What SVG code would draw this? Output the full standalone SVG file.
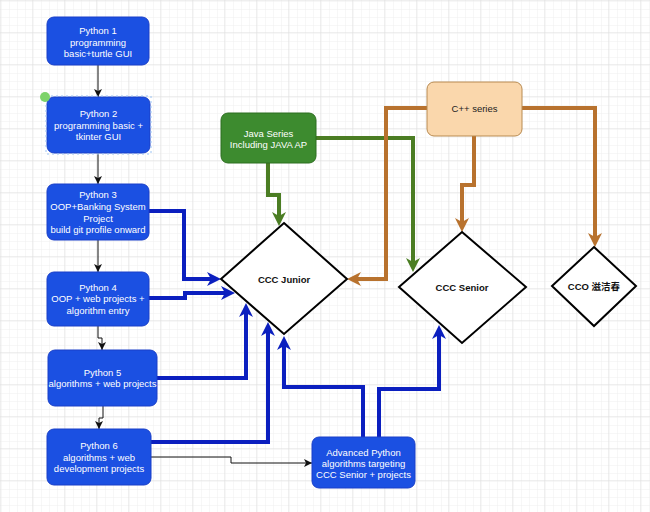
<svg xmlns="http://www.w3.org/2000/svg" width="650" height="512" viewBox="0 0 650 512">
<defs>
<pattern id="gmin" width="8" height="8" patternUnits="userSpaceOnUse" x="1" y="1"><path d="M8,0 V8 M0,8 H8" fill="none" stroke="#efefef" stroke-width="1"/></pattern>
<pattern id="gmaj" width="32" height="32" patternUnits="userSpaceOnUse" x="1" y="1"><rect width="32" height="32" fill="url(#gmin)"/><path d="M32,0 V32 M0,32 H32" fill="none" stroke="#dfdfdf" stroke-width="1"/></pattern>
<marker id="ab" viewBox="0 0 14 14" refX="10" refY="7" markerWidth="14" markerHeight="14" markerUnits="userSpaceOnUse" orient="auto"><path d="M0,0 L14,7 L0,14 L4,7 Z" fill="#0b1fbf"/></marker>
<marker id="ag" viewBox="0 0 14 14" refX="10" refY="7" markerWidth="14" markerHeight="14" markerUnits="userSpaceOnUse" orient="auto"><path d="M0,0 L14,7 L0,14 L4,7 Z" fill="#4b7d23"/></marker>
<marker id="ao" viewBox="0 0 14 14" refX="10" refY="7" markerWidth="14" markerHeight="14" markerUnits="userSpaceOnUse" orient="auto"><path d="M0,0 L14,7 L0,14 L4,7 Z" fill="#b8722e"/></marker>
<marker id="ak" viewBox="0 0 8 8" refX="8" refY="4" markerWidth="8" markerHeight="8" markerUnits="userSpaceOnUse" orient="auto"><path d="M0,0 L8,4 L0,8 L2,4 Z" fill="#111"/></marker>
</defs>
<style>
text{font-family:"Liberation Sans",Arial,sans-serif;font-size:9.5px;text-anchor:middle;dominant-baseline:central}
.py rect{fill:#1b50e2;stroke:#1a3fc8;stroke-width:1}
.py text{fill:#ffffff}
.dia polygon{fill:#ffffff;stroke:#000;stroke-width:2}
.dia text{fill:#111;font-weight:bold}
.k{fill:none;stroke:#111;stroke-width:1}
.b{fill:none;stroke:#0b1fbf;stroke-width:4;marker-end:url(#ab)}
.g{fill:none;stroke:#4b7d23;stroke-width:4;marker-end:url(#ag)}
.o{fill:none;stroke:#b8722e;stroke-width:4;marker-end:url(#ao)}
</style>
<rect width="650" height="512" fill="#ffffff"/>
<rect width="650" height="512" fill="url(#gmaj)"/>

<g id="connectors">
<path class="k" d="M98,65 V97" marker-end="url(#ak)"/>
<path class="k" d="M98,153 V184" marker-end="url(#ak)"/>
<path class="k" d="M98,240 V272" marker-end="url(#ak)"/>
<path class="k" d="M98,326 V338 H102 V350" marker-end="url(#ak)"/>
<path class="k" d="M103,406 V418 H99 V429" marker-end="url(#ak)"/>
<path class="k" d="M151,457 H231 V463 H312" marker-end="url(#ak)"/>
<path class="b" d="M149,211 H184 V279 H217"/>
<path class="b" d="M149,298 H185 V293 H231"/>
<path class="b" d="M157,378 H246 V307"/>
<path class="b" d="M151,442 H268 V326"/>
<path class="b" d="M363,437 V387 H284 V340"/>
<path class="b" d="M379,437 V389 H439 V329"/>
<path class="g" d="M268,163 V195 H279 V222"/>
<path class="g" d="M316,138 H413 V268"/>
<path class="o" d="M427,108 H386 V279 H351"/>
<path class="o" d="M474,136 V185 H462 V228"/>
<path class="o" d="M522,108 H595 V243"/>
</g>

<g id="python1" class="py"><rect x="47" y="17" width="102" height="48" rx="7"/><text x="98" y="30">Python 1</text><text x="98" y="42">programming</text><text x="98" y="53">basic+turtle GUI</text></g>
<g id="python2" class="py"><rect x="47" y="97" width="103" height="56" rx="7"/><rect x="46" y="96" width="105" height="58" stroke="#9cc4f4" stroke-width="1" stroke-dasharray="2,3" style="fill:none;stroke:#9cc4f4"/><circle cx="45" cy="97" r="5" fill="#7dd36a"/><text x="98.5" y="113">Python 2</text><text x="98.5" y="125">programming basic +</text><text x="98.5" y="136">tkinter GUI</text></g>
<g id="python3" class="py"><rect x="47" y="184" width="102" height="56" rx="7"/><text x="98" y="194">Python 3</text><text x="98" y="206">OOP+Banking System</text><text x="98" y="218">Project</text><text x="98" y="229">build git profile onward</text></g>
<g id="python4" class="py"><rect x="47" y="272" width="102" height="54" rx="7"/><text x="98" y="287">Python 4</text><text x="98" y="298">OOP + web projects +</text><text x="98" y="310">algorithm entry</text></g>
<g id="python5" class="py"><rect x="48" y="350" width="109" height="56" rx="7"/><text x="102.5" y="372">Python 5</text><text x="102.5" y="383">algorithms + web projects</text></g>
<g id="python6" class="py"><rect x="47" y="429" width="104" height="56" rx="7"/><text x="99" y="445">Python 6</text><text x="99" y="457">algorithms + web</text><text x="99" y="468">development projects</text></g>
<g id="advanced" class="py"><rect x="312" y="437" width="103" height="51" rx="7"/><text x="363.5" y="452">Advanced Python</text><text x="363.5" y="463">algorithms targeting</text><text x="363.5" y="474">CCC Senior + projects</text></g>

<g id="java"><rect x="221" y="113" width="95" height="50" rx="7" fill="#3d8b2f" stroke="#2d6e20"/><text x="268.5" y="133" fill="#fff">Java Series</text><text x="268.5" y="144" fill="#fff">Including JAVA AP</text></g>
<g id="cpp"><rect x="427" y="82" width="95" height="54" rx="7" fill="#fad7ac" stroke="#b88a50"/><text x="474.5" y="108" fill="#222">C++ series</text></g>

<g id="ccc-junior" class="dia"><polygon points="284,223 347,279 284,334 221,279"/><text x="284" y="279">CCC Junior</text></g>
<g id="ccc-senior" class="dia"><polygon points="462,232 526,287 462,343 399,287"/><text x="462" y="287">CCC Senior</text></g>
<g id="cco" class="dia"><polygon points="594,247 636,286 594,326 552,286"/><text x="594" y="286" style="font-family:'Liberation Sans','Noto Sans CJK SC',sans-serif">CCO 滋洁春</text></g>
</svg>
